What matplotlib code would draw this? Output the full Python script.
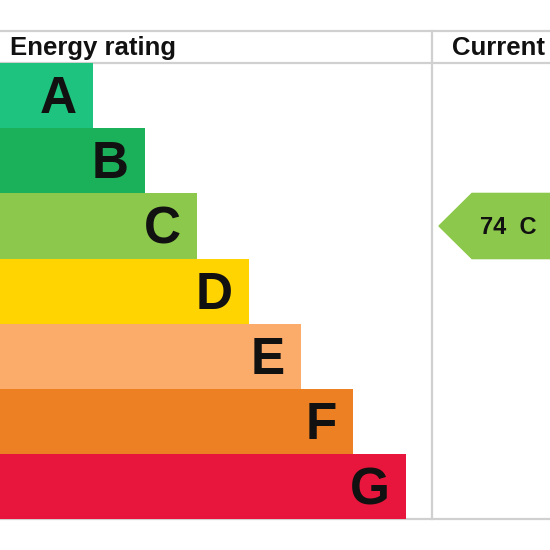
import matplotlib
matplotlib.use("Agg")
import matplotlib.pyplot as plt
from matplotlib.patches import Polygon

ratings = ["A", "B", "C", "D", "E", "F", "G"]
bar_ends = [93, 145, 197, 249, 301, 353, 406]
colors = ["#1dc37e", "#1bb15a", "#8cc84b", "#ffd400", "#fbac6a", "#ee8024", "#e8163c"]
current_value = 74
current_rating = "C"

fig = plt.figure(figsize=(5.5, 5.5), dpi=100)
ax = fig.add_axes([0, 0, 1, 1])
ax.set_xlim(0, 550)
ax.set_ylim(550, 0)
ax.axis("off")

top = 63
h = 65.2
font = "Liberation Sans"

# grid lines
gc = "#d0d0d0"
ax.plot([0, 550], [31, 31], color=gc, lw=1.6, zorder=1)
ax.plot([0, 550], [63, 63], color=gc, lw=1.6, zorder=1)
ax.plot([0, 550], [519, 519], color=gc, lw=1.6, zorder=1)
ax.plot([432, 432], [31, 519], color=gc, lw=1.6, zorder=1)

for i, (r, w, c) in enumerate(zip(ratings, bar_ends, colors)):
    y0 = top + i * h
    ax.barh(y0 + h / 2, w, height=h, left=0, color=c, zorder=2)
    ax.text(w - 16, y0 + h / 2 + 4, r, ha="right", va="center",
            fontsize=37, fontweight="bold", family=font, color="#111111", zorder=3)

ax.text(10, 48, "Energy rating", ha="left", va="center", fontsize=18.5,
        fontweight="bold", family=font, color="#111111")
ax.text(545, 48, "Current", ha="right", va="center", fontsize=18.5,
        fontweight="bold", family=font, color="#111111")

# current arrow
idx = ratings.index(current_rating)
y0 = top + idx * h
ym = y0 + h / 2
arrow = Polygon([[439, ym], [472, y0], [550, y0], [550, y0 + h], [472, y0 + h]],
                closed=True, color=colors[idx], zorder=2)
ax.add_patch(arrow)
ax.text(508, ym + 1, f"{current_value}  {current_rating}", ha="center", va="center",
        fontsize=17, fontweight="bold", family=font, color="#111111", zorder=3)

fig.savefig("out.png", dpi=100, facecolor="white")
